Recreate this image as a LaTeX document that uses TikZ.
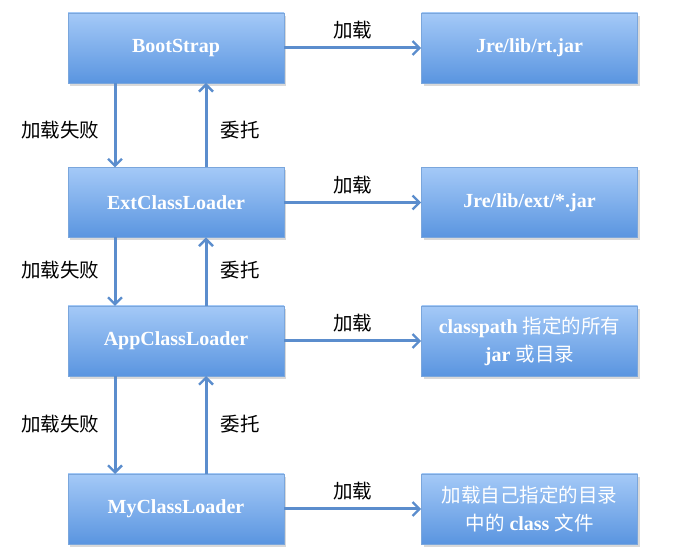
\documentclass[tikz,border=0pt]{standalone}
\usepackage{fontspec}
\setmainfont{Liberation Serif}
\newfontfamily\cjk{Noto Sans CJK SC}
\usetikzlibrary{arrows.meta,shadows}
\definecolor{boxtop}{HTML}{A4C9F7}
\definecolor{boxbot}{HTML}{5A95E0}
\definecolor{boxline}{HTML}{7AA6DC}
\definecolor{arr}{HTML}{5B8DCD}
\tikzset{
  box/.style={draw=boxline, line width=0.6pt, top color=boxtop, bottom color=boxbot,
    minimum width=216pt, minimum height=70pt, inner sep=0pt, text=white,
    font=\fontsize{20}{28}\selectfont\bfseries, align=center,
    drop shadow={shadow xshift=2pt, shadow yshift=-3pt, opacity=0.25, fill=black!60}},
  conn/.style={draw=arr, line width=3pt, -{Straight Barb[length=7pt,width=14pt,line width=2.4pt]}},
  lbl/.style={font=\cjk\fontsize{19.5}{20}\selectfont, text=black, inner sep=0pt},
}
\newcommand\zh[1]{{\cjk\mdseries\fontsize{19.5}{28}\selectfont #1}}
\begin{document}
\begin{tikzpicture}[x=1pt,y=1pt]
\useasboundingbox (0,0) rectangle (674,551);
% left boxes
\node[box] (bs) at (176,503) {BootStrap};
\node[box] (ext) at (176,348.5) {ExtClassLoader};
\node[box] (app) at (176,210) {AppClassLoader};
\node[box] (my) at (176,42) {MyClassLoader};
% right boxes
\node[box] (rt) at (529.5,503) {Jre/lib/rt.jar};
\node[box] (extj) at (529.5,348.5) {Jre/lib/ext/*.jar};
\node[box] (cp) at (529.5,210) {classpath \zh{指定的所有}\\jar \zh{或目录}};
\node[box] (own) at (529.5,42) {\zh{加载自己指定的目录}\\\zh{中的} class \zh{文件}};
% horizontal
\draw[conn] (bs.east) -- (rt.west) node[lbl, midway, above=7pt] {加载};
\draw[conn] (ext.east) -- (extj.west) node[lbl, midway, above=7pt] {加载};
\draw[conn] (app.east) -- (cp.west) node[lbl, midway, above=7pt] {加载};
\draw[conn] (my.east) -- (own.west) node[lbl, midway, above=7pt] {加载};
% vertical
\coordinate (d1a) at (115,468); \coordinate (d1b) at (115,383.5);
\coordinate (u1a) at (206,383.5); \coordinate (u1b) at (206,468);
\draw[conn] (d1a) -- (d1b);
\draw[conn] (u1a) -- (u1b);
\coordinate (d2a) at (115,313.5); \coordinate (d2b) at (115,245);
\coordinate (u2a) at (206,245); \coordinate (u2b) at (206,313.5);
\draw[conn] (d2a) -- (d2b);
\draw[conn] (u2a) -- (u2b);
\coordinate (d3a) at (115,175); \coordinate (d3b) at (115,77);
\coordinate (u3a) at (206,77); \coordinate (u3b) at (206,175);
\draw[conn] (d3a) -- (d3b);
\draw[conn] (u3a) -- (u3b);
% labels
\node[lbl] (f1) at (60,421) {加载失败};
\node[lbl] (w1) at (240,421) {委托};
\node[lbl] (f2) at (60,281) {加载失败};
\node[lbl] (w2) at (240,281) {委托};
\node[lbl] (f3) at (60,127) {加载失败};
\node[lbl] (w3) at (240,127) {委托};
\end{tikzpicture}
\end{document}
